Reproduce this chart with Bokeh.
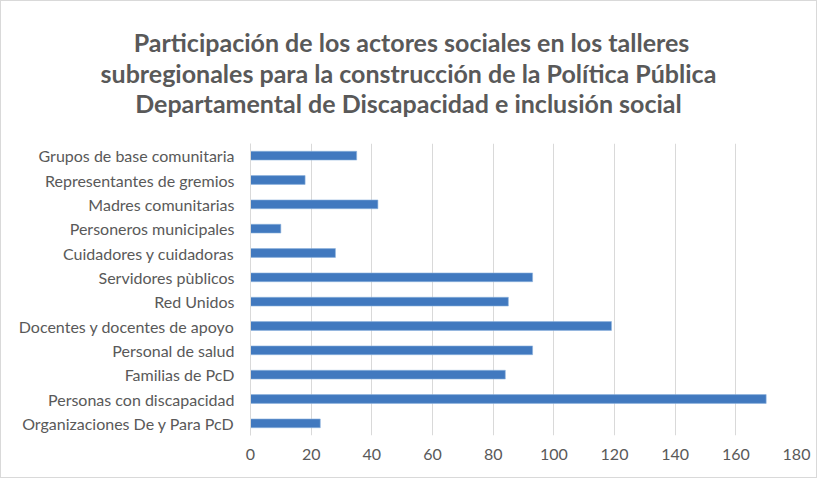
from bokeh.plotting import figure
from bokeh.models import FactorRange, Range1d, FixedTicker
from bokeh.core.properties import value
from bokeh.layouts import column
from bokeh.embed import file_html
from bokeh.resources import INLINE

categories = [
    "Grupos de base comunitaria",
    "Representantes de gremios",
    "Madres comunitarias",
    "Personeros municipales",
    "Cuidadores y cuidadoras",
    "Servidores pùblicos",
    "Red Unidos",
    "Docentes y docentes de apoyo",
    "Personal de salud",
    "Familias de PcD",
    "Personas con discapacidad",
    "Organizaciones De y Para PcD",
]
values = [35, 18, 42, 10, 28, 93, 85, 119, 93, 84, 170, 23]
x_ticks = [0, 20, 40, 60, 80, 100, 120, 140, 160, 180]
title_lines = [
    "Participación de los actores sociales en los talleres",
    "subregionales  para la construcción de la Política Pública",
    "Departamental  de Discapacidad e inclusión social",
]

FONT = "Lato"
GRAY = "#595959"
W = 815
TH = 142          # title band height
CH = 476 - TH     # chart height
FL, FR, FB = 249, 20, 42

# ---- title band ----
t = figure(width=W, height=TH, x_range=Range1d(0, W), y_range=Range1d(TH, 0),
           x_axis_type=None, y_axis_type=None, output_backend="svg",
           toolbar_location=None, min_border=0, frame_align=False)
t.title = None
t.grid.visible = False
t.outline_line_color = None
t.text(x=[410, 410, 410], y=[40, 71, 101], text=title_lines,
       text_align="center", text_baseline="middle",
       text_font=value(FONT), text_font_size="25px", text_font_style="bold",
       text_color=GRAY)

# ---- chart ----
p = figure(
    width=W, height=CH,
    y_range=FactorRange(*list(reversed(categories)), range_padding=0.0),
    x_range=Range1d(0, 180),
    output_backend="svg", toolbar_location=None, frame_align=False,
    min_border_left=FL, min_border_right=FR, min_border_top=0, min_border_bottom=FB,
)
p.title = None
p.hbar(y=categories, right=values, height=0.36, left=0,
       fill_color="#4179BF", line_color="#8FB3DE", line_width=0.6)

p.xaxis.ticker = FixedTicker(ticks=x_ticks)
p.xaxis.axis_line_color = None
p.xaxis.major_tick_line_color = None
p.xaxis.minor_tick_line_color = None
p.xaxis.major_label_text_font = FONT
p.xaxis.major_label_text_font_size = "16px"
p.xaxis.major_label_text_color = GRAY
p.xaxis.major_label_standoff = 7

p.yaxis.axis_line_color = "#d9d9d9"
p.yaxis.major_tick_line_color = None
p.yaxis.minor_tick_line_color = None
p.yaxis.major_label_text_font = FONT
p.yaxis.major_label_text_font_size = "16px"
p.yaxis.major_label_text_color = GRAY
p.yaxis.major_label_standoff = 10

p.xgrid.grid_line_color = "#d9d9d9"
p.xgrid.ticker = FixedTicker(ticks=x_ticks)
p.ygrid.grid_line_color = None
p.outline_line_color = None

layout = column(t, p, spacing=0)
layout.styles = {"border": "1px solid #d9d9d9"}

open("out.html", "w").write(file_html(layout, INLINE))
